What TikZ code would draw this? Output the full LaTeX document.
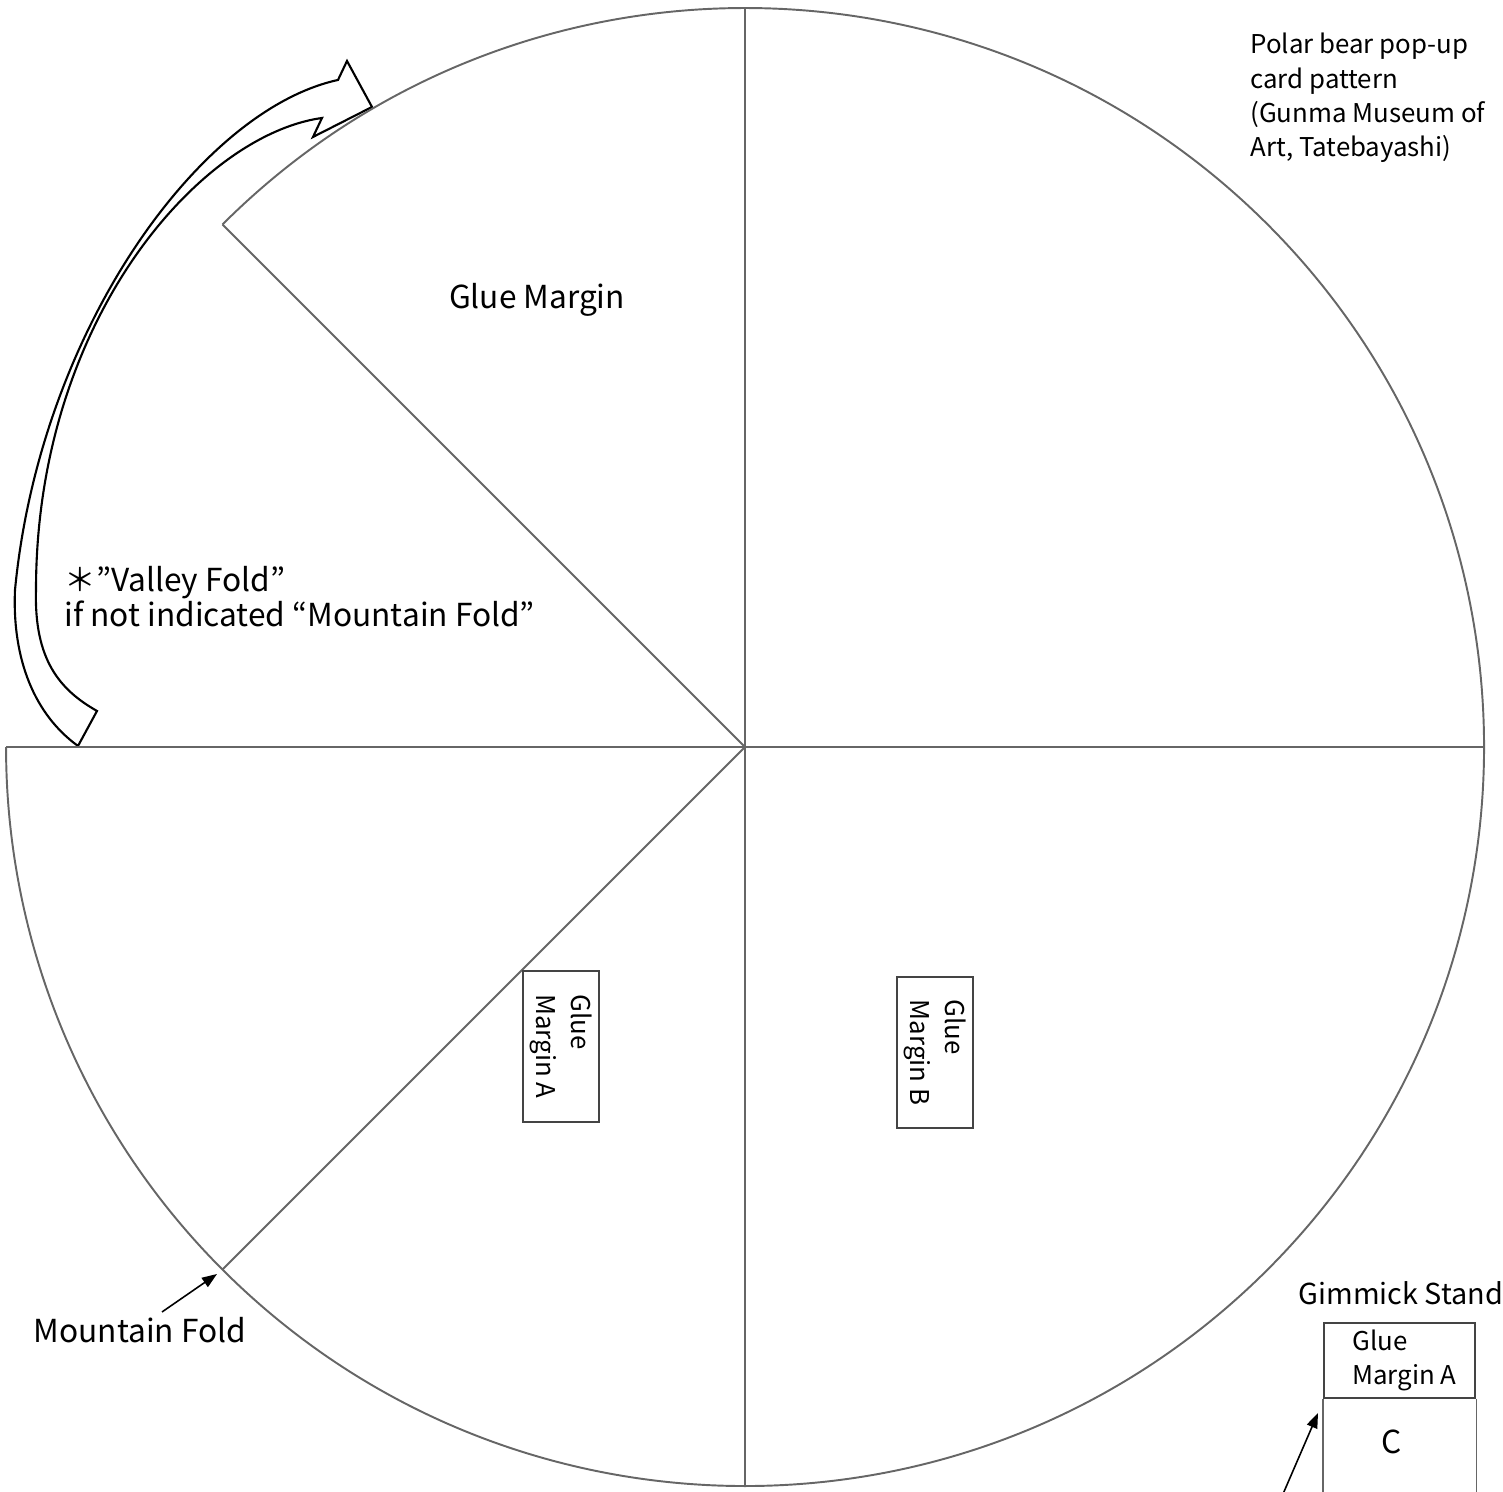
\documentclass[tikz,border=0pt]{standalone}
\usepackage{fontspec}
\setmainfont{Noto Sans CJK JP}
\usetikzlibrary{arrows.meta}
\definecolor{gris}{HTML}{666666}
\definecolor{borde}{HTML}{444444}
\begin{document}
\begin{tikzpicture}[x=0.01cm, y=0.01cm,
    linea/.style={draw=gris, line width=0.55pt},
    caja/.style={draw=borde, line width=0.8pt, inner sep=0pt},
    flecha/.style={-{Triangle[length=0.15cm, width=0.11cm]}, line width=0.45pt},
    grande/.style={font=\fontsize{9}{10}\selectfont},
    chico/.style={font=\fontsize{7.35}{9.7}\selectfont, align=left}
  ]
    \useasboundingbox (0,0) rectangle (1503,1492);

    % flecha hueca
    \draw[line width=0.6pt, fill=white, line join=miter]
      (78,746) .. controls (35,777) and (12,832) .. (15,902)
      .. controls (40,1162) and (200,1382) .. (338,1412)
      -- (347,1431) -- (372,1385) -- (313,1355) -- (322,1374)
      .. controls (200,1357) and (36,1172) .. (36,902)
      .. controls (34,832) and (60,802) .. (97,781) -- cycle;

    % circulo
    \coordinate (centro) at (745,745);
    \coordinate (arriba) at (745,1484);
    \coordinate (abajo) at (745,6);
    \coordinate (izq) at (6,745);
    \coordinate (der) at (1484,745);
    \coordinate (corte) at (222.5,1267.5);
    \coordinate (pliegue) at (222.5,222.5);
    \draw[linea] (corte) arc[start angle=135, end angle=-180, radius=739];
    \draw[linea] (arriba) -- (abajo);
    \draw[linea] (izq) -- (der);
    \draw[linea] (centro) -- (corte);
    \draw[linea] (centro) -- (pliegue);

    \node[grande] (margen) at (537,1192) {Glue Margin};
    \node[grande, align=left, anchor=west] (valle) at (52,895) {\smash{＊}”Valley Fold”\\if not indicated “Mountain Fold”};
    \node[chico, anchor=north west] (titulo) at (1238,1471) {Polar bear pop-up\\card pattern\\ (Gunma Museum of\\Art, Tatebayashi)};

    \node[caja, chico, rotate=-90, minimum width=1.51cm, minimum height=0.76cm] (margenA) at (561,445.5) {Glue\\Margin A};
    \node[caja, chico, rotate=-90, minimum width=1.51cm, minimum height=0.76cm] (margenB) at (935,439.5) {Glue\\Margin B};

    \node[grande] (monte) at (140,162) {Mountain Fold};
    \coordinate (colaM) at (162,180);
    \coordinate (puntaM) at (217,218);
    \draw[flecha] (colaM) -- (puntaM);

    % soporte
    \node[font=\fontsize{8.2}{10}\selectfont] (soporte) at (1401,199) {Gimmick Stand};
    \node[caja, minimum width=1.51cm, minimum height=0.75cm] (pegA) at (1399.5,131.5) {};
    \node[chico, anchor=west] (pegAtexto) at (1340,131.5) {Glue\\Margin A};
    \draw[linea] (pegA.south west) -- ++(0,-100);
    \draw[linea] (pegA.south east) -- ++(0,-100);
    \node[grande] (letraC) at (1392,50) {C};
    \coordinate (colaC) at (1283,-2);
    \coordinate (puntaC) at (1318,79);
    \draw[flecha] (colaC) -- (puntaC);
  \end{tikzpicture}
\end{document}
